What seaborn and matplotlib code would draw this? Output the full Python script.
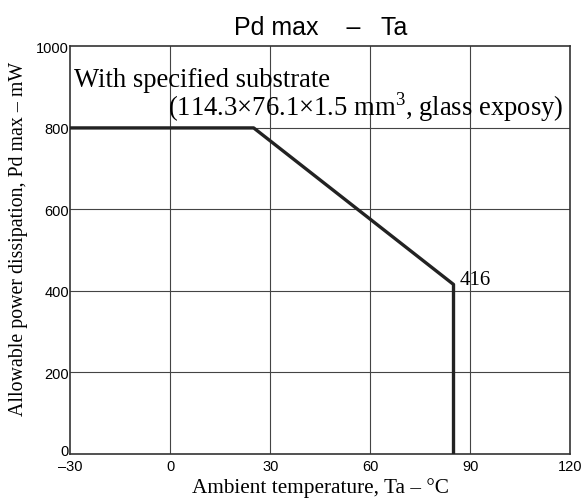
import numpy as np
import pandas as pd
import seaborn as sns
import matplotlib.pyplot as plt
import matplotlib.transforms as mtransforms

# derating curve
ta = [-30, 25, 85, 85]
pd_max = [800, 800, 416, 0]
x_ticks = [-30, 0, 30, 60, 90, 120]
y_ticks = [0, 200, 400, 600, 800, 1000]

df = pd.DataFrame({'Ta': ta, 'Pd': pd_max})

sns.set_style('white', {'text.color': 'black', 'axes.labelcolor': 'black',
                        'xtick.color': 'black', 'ytick.color': 'black'})
plt.rcParams['font.family'] = ['Liberation Sans', 'DejaVu Sans']
plt.rcParams['mathtext.fontset'] = 'custom'
plt.rcParams['mathtext.rm'] = 'Liberation Serif'

fig = plt.figure(figsize=(5.85, 5.02), dpi=100)
ax = fig.add_axes([0.1205, 0.0936, 0.854, 0.812])

for x in x_ticks[1:-1]:
    ax.axvline(x, color='#444444', lw=0.8, zorder=1)
for y in y_ticks[1:-1]:
    ax.axhline(y, color='#444444', lw=0.8, zorder=1)

sns.lineplot(data=df, x='Ta', y='Pd', sort=False, estimator=None, errorbar=None,
             color='#222222', lw=2.4, ax=ax, zorder=3)

ax.set_xlim(-30, 120)
ax.set_ylim(0, 1000)
ax.set_xticks(x_ticks)
ax.set_xticklabels(['\u201330' if t < 0 else str(t) for t in x_ticks])
ax.set_yticks(y_ticks)
ax.tick_params(length=0, labelsize=10.5, pad=3.5, labelcolor='black')
ax.tick_params(axis='y', pad=1)
for s in ax.spines.values():
    s.set_color('#333333')
    s.set_linewidth(1.2)

# the "0" on the y axis sits a little above the corner
lab0 = ax.get_yticklabels()[0]
lab0.set_transform(lab0.get_transform() + mtransforms.ScaledTranslation(0, 3 / 72, fig.dpi_scale_trans))

serif = ['Liberation Serif', 'DejaVu Serif']
ax.set_xlabel('Ambient temperature, Ta \u2013 \u00b0C', family=serif, fontsize=15.3, labelpad=3)
ax.set_ylabel('Allowable power dissipation, Pd max \u2013 mW', family=serif, fontsize=14.3)
ax.yaxis.set_label_coords(-0.085, 0.531)
ax.set_title('Pd max    \u2013   Ta', fontsize=18, pad=9, color='black')

ax.text(-29, 903, 'With specified substrate', family=serif, fontsize=19.2, va='baseline', color='black')
ax.text(-0.7, 832, r'(114.3$\times$76.1$\times$1.5 mm$^{\mathrm{3}}$, glass exposy)',
        family=serif, fontsize=19.2, va='baseline', color='black')
ax.text(86.7, 417, '416', family=serif, fontsize=15, va='baseline', color='black')

fig.savefig('out.png', dpi=100)
